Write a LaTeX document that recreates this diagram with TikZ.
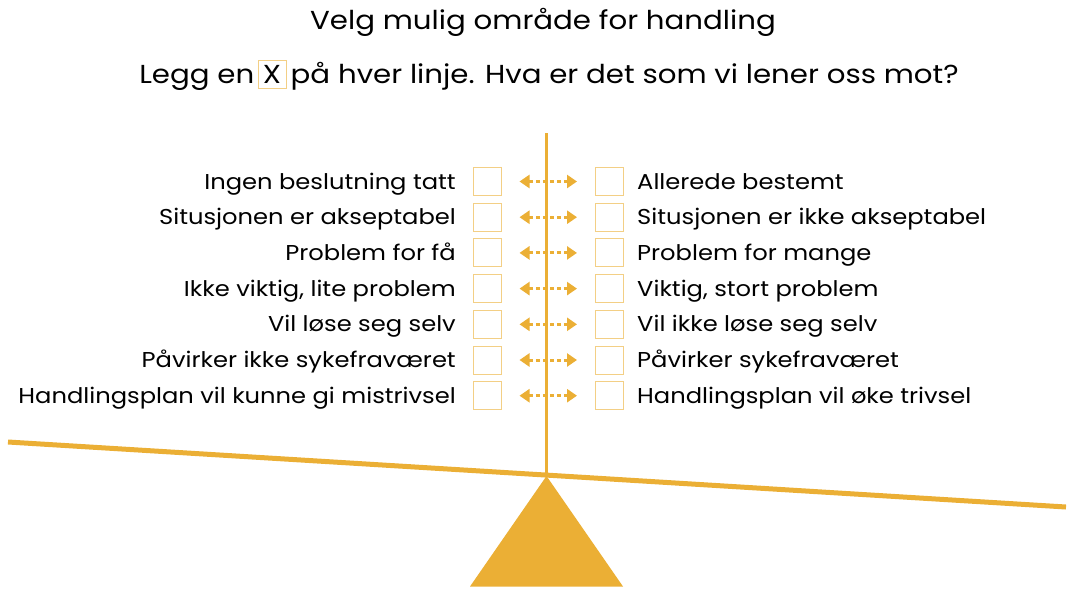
\documentclass[tikz,border=0pt]{standalone}
\usepackage{fontspec}
\setmainfont{Poppins}[FakeStretch=1.125]
\usetikzlibrary{arrows.meta}
\definecolor{gold}{HTML}{EBAF35}
\definecolor{boxc}{HTML}{F3CF85}
\tikzset{
  lbl/.style={font=\fontsize{21.5}{24}\selectfont, inner sep=0pt, text=black},
  ttl/.style={font=\fontsize{26}{30}\selectfont, inner sep=0pt, text=black},
  cbox/.style={draw=boxc, line width=1pt, minimum width=28pt, minimum height=28pt, inner sep=0pt},
  arr/.style={gold, line width=3pt, dash pattern=on 4pt off 3pt, {Triangle[width=13pt,length=10pt]}-{Triangle[width=13pt,length=10pt]}, shorten <=18pt, shorten >=18pt},
}
\begin{document}
\begin{tikzpicture}[x=1pt,y=-1pt]
\useasboundingbox (0,0) rectangle (1073,600);
% titles
\node[ttl, anchor=base] (t1) at (543,29.5) {Velg mulig område for handling};
\node[cbox, ttl] (xb) at (272,74) {X};
\node[ttl, anchor=base east] (t2a) at ([xshift=-3pt]xb.west |- 0,83) {Legg en};
\node[ttl, anchor=base west] (t2b) at ([xshift=4pt]xb.east |- 0,83) {på hver linje. Hva er det som vi lener oss mot?};
% rows
\foreach \i/\l/\r in {0/Ingen beslutning tatt/Allerede bestemt,
  1/Situsjonen er akseptabel/Situsjonen er ikke akseptabel,
  2/Problem for få/Problem for mange,
  3/Ikke viktig{,} lite problem/Viktig{,} stort problem,
  4/Vil løse seg selv/Vil ikke løse seg selv,
  5/Påvirker ikke sykefraværet/Påvirker sykefraværet,
  6/Handlingsplan vil kunne gi mistrivsel/Handlingsplan vil øke trivsel}{
  \pgfmathsetmacro{\yy}{181.5+35.7*\i}
  \node[cbox] (lb\i) at (487,\yy) {};
  \node[cbox] (rb\i) at (609.5,\yy) {};
  \node[lbl, anchor=base east] (lt\i) at (456,\yy+7.5) {\l};
  \node[lbl, anchor=base west] (rt\i) at (637,\yy+7.5) {\r};
  \draw[arr] (lb\i.east) -- (rb\i.west);
}
% scale
\coordinate (pt) at (546,133);
\coordinate (bl) at (8,442);
\coordinate (br) at (1066,507);
\coordinate (apex) at (546.5,476);
\draw[gold, line width=5pt] (bl) -- (br);
\draw[gold, line width=3pt] (pt) -- (546,475);
\fill[gold] (apex) -- (623,586.5) -- (470,586.5) -- cycle;
\end{tikzpicture}
\end{document}
